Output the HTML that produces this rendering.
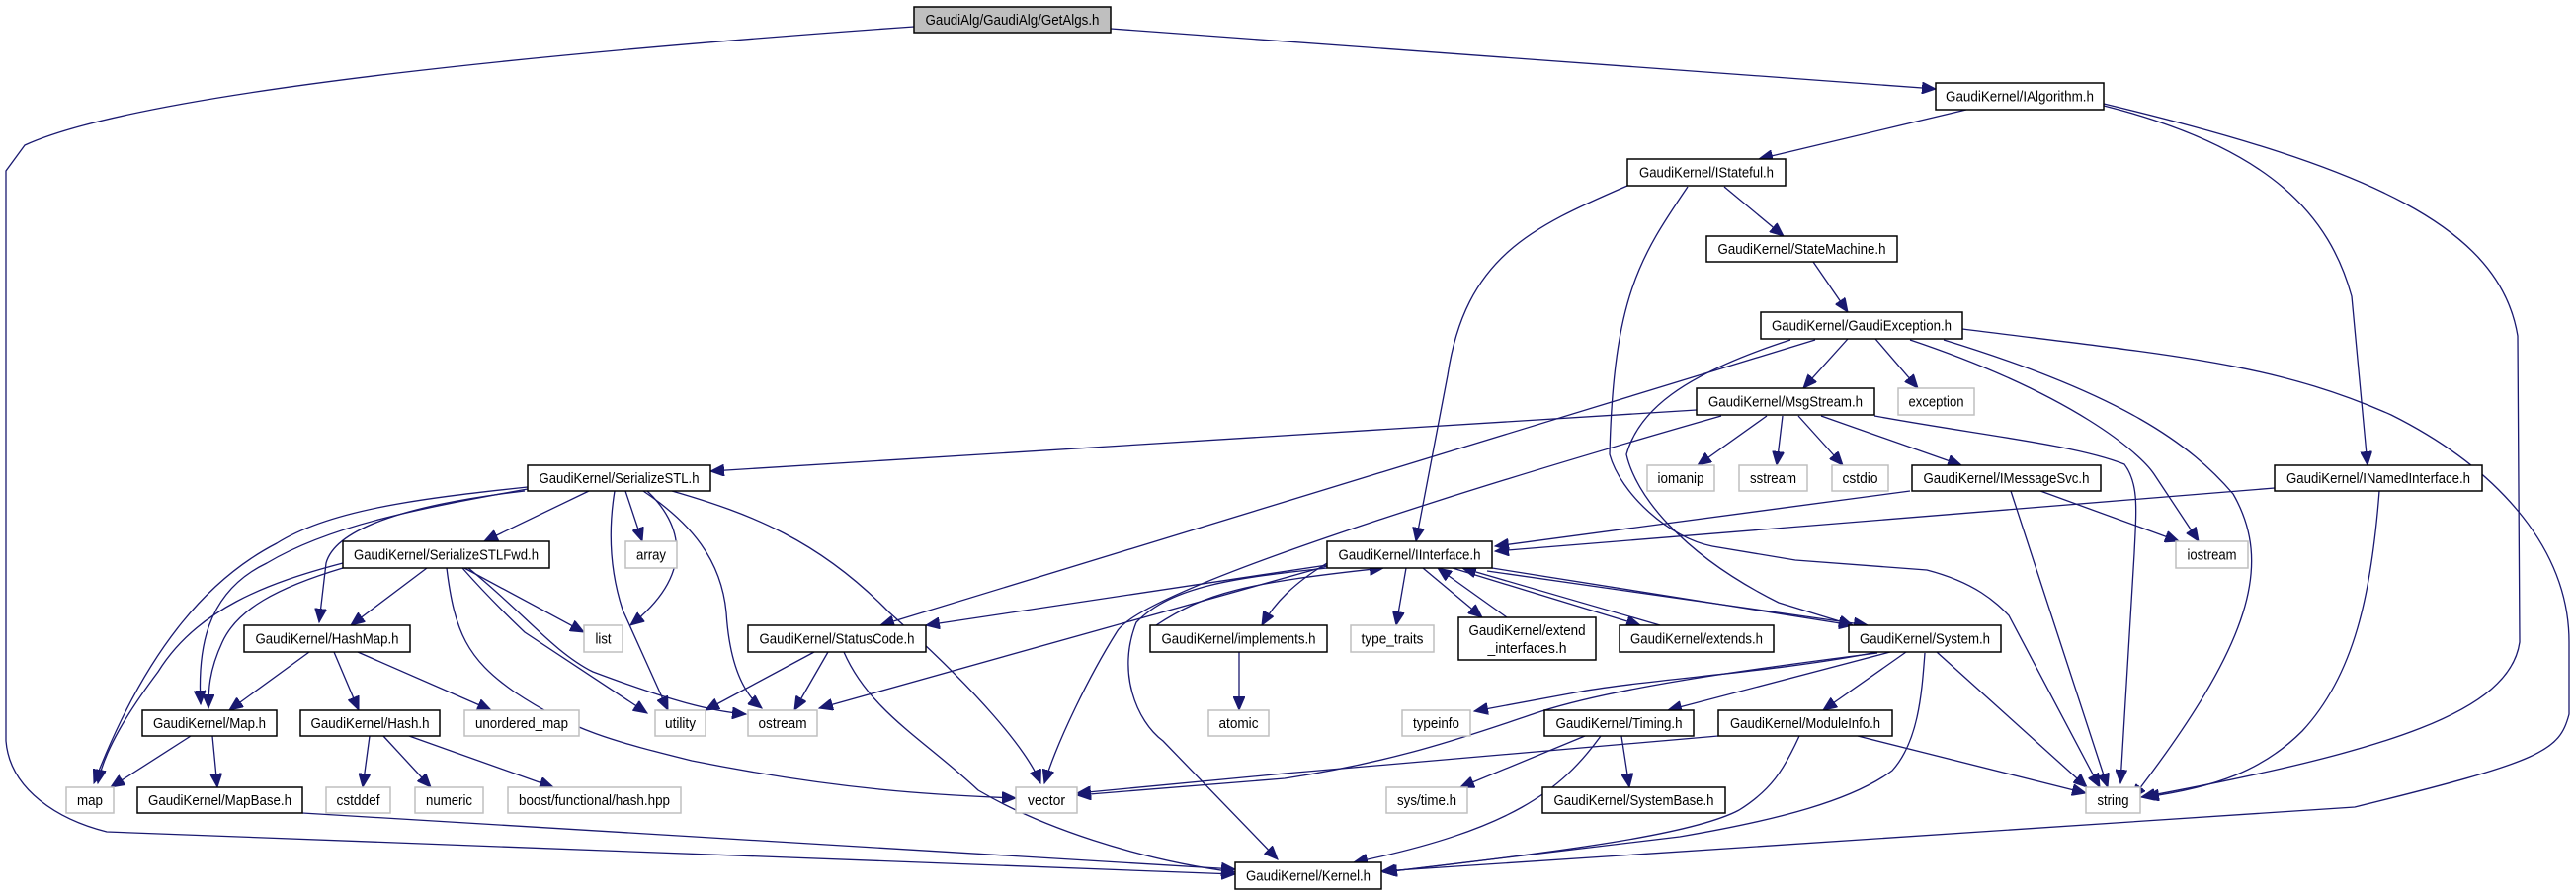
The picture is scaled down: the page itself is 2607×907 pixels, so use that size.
<!DOCTYPE html>
<html><head><meta charset="utf-8"><style>
html,body{margin:0;padding:0;background:#fff;width:2607px;height:907px;overflow:hidden}
text{font-family:"Liberation Sans",sans-serif;font-size:15px;fill:#000}
.e{fill:none;stroke:#191970;stroke-width:1.3}
.n{fill:#fff;stroke:#000;stroke-width:1.5}
.g{fill:#fff;stroke:#bfbfbf;stroke-width:1.5}
</style></head><body>
<svg width="2607" height="907" viewBox="0 0 2607 907" xmlns="http://www.w3.org/2000/svg">
<defs><marker id="a" markerUnits="userSpaceOnUse" markerWidth="16" markerHeight="12" refX="14" refY="6" orient="auto"><path d="M0,0 L14,6 L0,12 z" fill="#191970" stroke="#191970"/></marker></defs>
<g class="e" marker-end="url(#a)">
<path d="M1124,29 L1959,90"/>
<path d="M925,27 C600,50 150,90 25,147 L6,173 L6,750 C10,800 60,830 108,842 L1250,885"/>
<path d="M1990,111 L1780,161"/>
<path d="M2129,107 C2300,150 2358,220 2380,300 L2396,471"/>
<path d="M2129,105 C2400,170 2530,230 2548,340 L2550,650 C2540,720 2420,760 2167,807"/>
<path d="M1647,188 C1550,230 1483,260 1465,380 L1433,548"/>
<path d="M1708,189 C1660,260 1633,300 1629,460 C1640,500 1690,545 1733,553 L1817,567 L1950,577 C2000,590 2020,610 2033,623 L2125,797"/>
<path d="M1745,189 L1805,239"/>
<path d="M1835,265 L1870,316"/>
<path d="M1870,343 L1825,393"/>
<path d="M1898,343 L1941,393"/>
<path d="M1837,344 L891,633"/>
<path d="M1812,344 C1700,380 1658,417 1646,460 C1655,500 1700,560 1800,610 L1875,633"/>
<path d="M1933,344 C2100,400 2167,460 2180,480 L2225,548"/>
<path d="M1967,344 C2150,400 2217,450 2260,500 C2300,570 2280,650 2158,808"/>
<path d="M1986,333 C2200,360 2300,367 2420,420 C2520,470 2600,550 2600,650 L2600,723 C2590,760 2575,770 2383,817 L1398,882"/>
<path d="M1717,415 L719,477"/>
<path d="M1742,421 C1500,490 1153,597 1130,640 C1103,683 1070,750 1057,793"/>
<path d="M1788,421 L1718,471"/>
<path d="M1804,421 L1798,471"/>
<path d="M1820,421 L1865,471"/>
<path d="M1843,421 L1985,471"/>
<path d="M1897,421 C2000,440 2100,450 2150,470 C2165,490 2162,517 2160,560 L2146,793"/>
<path d="M1933,497 L1513,553"/>
<path d="M2035,497 L2133,797"/>
<path d="M2065,497 L2205,548"/>
<path d="M2302,494 L1513,558"/>
<path d="M2408,497 C2400,600 2383,683 2330,740 C2290,780 2242,797 2171,807"/>
<path d="M1343,572 L937,633"/>
<path d="M1343,573 L829,717"/>
<path d="M1343,575 C1250,585 1186,593 1150,630 C1130,680 1150,730 1177,750 L1293,870"/>
<path d="M1423,575 L1413,633"/>
<path d="M1440,575 L1500,625"/>
<path d="M1525,625 L1455,575"/>
<path d="M1470,575 L1660,633"/>
<path d="M1680,633 L1480,575"/>
<path d="M1510,575 L1875,633"/>
<path d="M1505,578 L1890,633"/>
<path d="M1343,570 C1310,590 1290,610 1277,633"/>
<path d="M1170,633 C1220,600 1260,590 1400,575"/>
<path d="M1254,660 L1254,719"/>
<path d="M1900,660 C1800,680 1675,687 1600,700 L1492,720"/>
<path d="M1900,661 C1750,680 1633,697 1560,720 C1500,740 1420,770 1300,788 L1090,805"/>
<path d="M1913,660 L1688,719"/>
<path d="M1929,660 L1845,719"/>
<path d="M1960,660 L2112,797"/>
<path d="M1948,661 C1945,700 1942,750 1915,780 C1875,810 1800,830 1700,847 L1400,883"/>
<path d="M1739,745 L1300,783 L1090,803"/>
<path d="M1880,745 L2111,803"/>
<path d="M1821,745 C1805,780 1792,800 1760,820 C1717,843 1600,860 1400,883"/>
<path d="M1604,745 L1478,797"/>
<path d="M1641,745 L1649,797"/>
<path d="M1620,745 C1580,800 1530,840 1370,873"/>
<path d="M596,497 L490,548"/>
<path d="M633,497 L650,548"/>
<path d="M655,497 C690,530 705,580 638,633"/>
<path d="M622,497 C615,540 618,580 630,617 L676,719"/>
<path d="M651,497 C700,530 730,567 735,620 C738,667 750,700 771,717"/>
<path d="M680,497 C760,520 829,547 900,620 C990,700 1040,760 1053,793"/>
<path d="M534,493 C420,505 332,517 280,550 C216,583 150,650 95,793"/>
<path d="M534,495 C420,515 332,533 270,570 C207,600 200,660 203,713"/>
<path d="M531,497 C420,510 340,533 330,570 L323,630"/>
<path d="M432,575 L355,633"/>
<path d="M347,575 C280,595 240,617 225,650 C211,680 211,700 211,717"/>
<path d="M347,570 C270,590 199,617 160,680 C130,720 105,760 99,793"/>
<path d="M470,575 L591,640"/>
<path d="M468,575 C490,600 510,620 531,640 L655,722"/>
<path d="M474,575 C530,620 560,660 600,680 C680,710 720,720 755,723"/>
<path d="M452,575 C460,640 473,667 520,700 C580,740 620,750 700,770 C850,800 950,805 1028,808"/>
<path d="M313,660 L232,719"/>
<path d="M338,660 L363,719"/>
<path d="M362,660 L497,719"/>
<path d="M193,745 L112,797"/>
<path d="M215,745 L220,797"/>
<path d="M374,745 L367,797"/>
<path d="M388,745 L436,797"/>
<path d="M414,745 L560,797"/>
<path d="M306,823 L1250,880"/>
<path d="M824,660 L714,719"/>
<path d="M838,660 L804,719"/>
<path d="M854,660 C880,720 937,750 990,800 C1053,837 1150,870 1250,883"/>
</g>
<rect x="925" y="7" width="199" height="26" fill="#bfbfbf" stroke="#000" stroke-width="1.5"/>
<text x="1024.5" y="25" text-anchor="middle" textLength="176" lengthAdjust="spacingAndGlyphs">GaudiAlg/GaudiAlg/GetAlgs.h</text>
<g text-anchor="middle" lengthAdjust="spacingAndGlyphs">
<rect class="n" x="1959" y="84" width="170" height="27"/><text x="2044" y="102.5" textLength="150" lengthAdjust="spacingAndGlyphs">GaudiKernel/IAlgorithm.h</text>
<rect class="n" x="1647" y="161" width="160" height="27"/><text x="1727" y="179.5" textLength="136" lengthAdjust="spacingAndGlyphs">GaudiKernel/IStateful.h</text>
<rect class="n" x="1727" y="239" width="193" height="26"/><text x="1823.5" y="257" textLength="170" lengthAdjust="spacingAndGlyphs">GaudiKernel/StateMachine.h</text>
<rect class="n" x="1782" y="316" width="204" height="27"/><text x="1884" y="334.5" textLength="182" lengthAdjust="spacingAndGlyphs">GaudiKernel/GaudiException.h</text>
<rect class="n" x="1717" y="393" width="180" height="27"/><text x="1807" y="411.5" textLength="156" lengthAdjust="spacingAndGlyphs">GaudiKernel/MsgStream.h</text>
<rect class="g" x="1921" y="393" width="77" height="27"/><text x="1959.5" y="411.5" textLength="56" lengthAdjust="spacingAndGlyphs">exception</text>
<rect class="n" x="534" y="471" width="185" height="26"/><text x="626.5" y="489" textLength="162" lengthAdjust="spacingAndGlyphs">GaudiKernel/SerializeSTL.h</text>
<rect class="n" x="347" y="548" width="209" height="27"/><text x="451.5" y="566.5" textLength="187" lengthAdjust="spacingAndGlyphs">GaudiKernel/SerializeSTLFwd.h</text>
<rect class="g" x="633" y="548" width="52" height="27"/><text x="659" y="566.5" textLength="30" lengthAdjust="spacingAndGlyphs">array</text>
<rect class="n" x="247" y="633" width="168" height="27"/><text x="331" y="651.5" textLength="145" lengthAdjust="spacingAndGlyphs">GaudiKernel/HashMap.h</text>
<rect class="g" x="591" y="633" width="39" height="27"/><text x="610.5" y="651.5" textLength="16" lengthAdjust="spacingAndGlyphs">list</text>
<rect class="n" x="757" y="633" width="180" height="27"/><text x="847" y="651.5" textLength="157" lengthAdjust="spacingAndGlyphs">GaudiKernel/StatusCode.h</text>
<rect class="n" x="1164" y="633" width="179" height="27"/><text x="1253.5" y="651.5" textLength="156" lengthAdjust="spacingAndGlyphs">GaudiKernel/implements.h</text>
<rect class="n" x="144" y="719" width="136" height="26"/><text x="212" y="737" textLength="114" lengthAdjust="spacingAndGlyphs">GaudiKernel/Map.h</text>
<rect class="n" x="304" y="719" width="141" height="26"/><text x="374.5" y="737" textLength="120" lengthAdjust="spacingAndGlyphs">GaudiKernel/Hash.h</text>
<rect class="g" x="470" y="719" width="116" height="26"/><text x="528" y="737" textLength="94" lengthAdjust="spacingAndGlyphs">unordered_map</text>
<rect class="g" x="663" y="719" width="51" height="26"/><text x="688.5" y="737" textLength="31" lengthAdjust="spacingAndGlyphs">utility</text>
<rect class="g" x="757" y="719" width="70" height="26"/><text x="792" y="737" textLength="49" lengthAdjust="spacingAndGlyphs">ostream</text>
<rect class="g" x="1223" y="719" width="61" height="26"/><text x="1253.5" y="737" textLength="40" lengthAdjust="spacingAndGlyphs">atomic</text>
<rect class="g" x="67" y="797" width="48" height="26"/><text x="91" y="815" textLength="26" lengthAdjust="spacingAndGlyphs">map</text>
<rect class="n" x="139" y="797" width="167" height="26"/><text x="222.5" y="815" textLength="145" lengthAdjust="spacingAndGlyphs">GaudiKernel/MapBase.h</text>
<rect class="g" x="330" y="797" width="65" height="26"/><text x="362.5" y="815" textLength="44" lengthAdjust="spacingAndGlyphs">cstddef</text>
<rect class="g" x="420" y="797" width="69" height="26"/><text x="454.5" y="815" textLength="47" lengthAdjust="spacingAndGlyphs">numeric</text>
<rect class="g" x="514" y="797" width="175" height="26"/><text x="601.5" y="815" textLength="153" lengthAdjust="spacingAndGlyphs">boost/functional/hash.hpp</text>
<rect class="g" x="1028" y="797" width="62" height="26"/><text x="1059" y="815" textLength="38" lengthAdjust="spacingAndGlyphs">vector</text>
<rect class="n" x="1250" y="873" width="148" height="27"/><text x="1324" y="891.5" textLength="126" lengthAdjust="spacingAndGlyphs">GaudiKernel/Kernel.h</text>
<rect class="g" x="1667" y="471" width="68" height="26"/><text x="1701" y="489" textLength="47" lengthAdjust="spacingAndGlyphs">iomanip</text>
<rect class="g" x="1760" y="471" width="69" height="26"/><text x="1794.5" y="489" textLength="47" lengthAdjust="spacingAndGlyphs">sstream</text>
<rect class="g" x="1854" y="471" width="57" height="26"/><text x="1882.5" y="489" textLength="36" lengthAdjust="spacingAndGlyphs">cstdio</text>
<rect class="n" x="1935" y="471" width="191" height="26"/><text x="2030.5" y="489" textLength="168" lengthAdjust="spacingAndGlyphs">GaudiKernel/IMessageSvc.h</text>
<rect class="n" x="2302" y="471" width="210" height="26"/><text x="2407" y="489" textLength="186" lengthAdjust="spacingAndGlyphs">GaudiKernel/INamedInterface.h</text>
<rect class="n" x="1343" y="548" width="167" height="27"/><text x="1426.5" y="566.5" textLength="144" lengthAdjust="spacingAndGlyphs">GaudiKernel/IInterface.h</text>
<rect class="g" x="2202" y="548" width="73" height="27"/><text x="2238.5" y="566.5" textLength="50" lengthAdjust="spacingAndGlyphs">iostream</text>
<rect class="g" x="1367" y="633" width="84" height="27"/><text x="1409" y="651.5" textLength="63" lengthAdjust="spacingAndGlyphs">type_traits</text>
<rect class="n" x="1476" y="625" width="139" height="43"/><text x="1545.5" y="643" textLength="118" lengthAdjust="spacingAndGlyphs">GaudiKernel/extend</text><text x="1545.5" y="661" textLength="80" lengthAdjust="spacingAndGlyphs">_interfaces.h</text>
<rect class="n" x="1639" y="633" width="156" height="27"/><text x="1717" y="651.5" textLength="134" lengthAdjust="spacingAndGlyphs">GaudiKernel/extends.h</text>
<rect class="n" x="1871" y="633" width="154" height="27"/><text x="1948" y="651.5" textLength="132" lengthAdjust="spacingAndGlyphs">GaudiKernel/System.h</text>
<rect class="g" x="1419" y="719" width="69" height="26"/><text x="1453.5" y="737" textLength="47" lengthAdjust="spacingAndGlyphs">typeinfo</text>
<rect class="n" x="1563" y="719" width="151" height="26"/><text x="1638.5" y="737" textLength="128" lengthAdjust="spacingAndGlyphs">GaudiKernel/Timing.h</text>
<rect class="n" x="1739" y="719" width="176" height="26"/><text x="1827" y="737" textLength="152" lengthAdjust="spacingAndGlyphs">GaudiKernel/ModuleInfo.h</text>
<rect class="g" x="1403" y="797" width="82" height="26"/><text x="1444" y="815" textLength="60" lengthAdjust="spacingAndGlyphs">sys/time.h</text>
<rect class="n" x="1561" y="797" width="185" height="26"/><text x="1653.5" y="815" textLength="162" lengthAdjust="spacingAndGlyphs">GaudiKernel/SystemBase.h</text>
<rect class="g" x="2111" y="797" width="55" height="26"/><text x="2138.5" y="815" textLength="32" lengthAdjust="spacingAndGlyphs">string</text>
</g>
</svg>
</body></html>
